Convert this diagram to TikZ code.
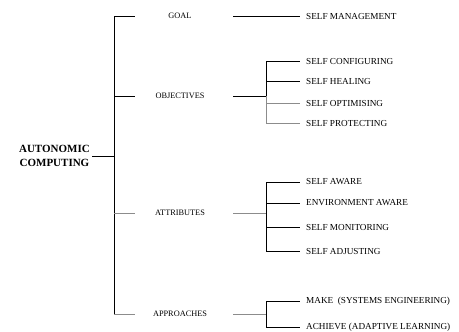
\documentclass[tikz,border=0pt]{standalone}
\usepackage{fontspec}
\setmainfont{Liberation Serif}
\tikzset{
  head/.style={font=\fontsize{11}{14}\selectfont\bfseries, align=center, inner sep=2pt},
  branch/.style={font=\fontsize{8.3}{10}\selectfont, minimum width=90pt, inner sep=0pt},
  leaf/.style={font=\fontsize{9.2}{11}\selectfont, anchor=west, inner xsep=6pt, inner ysep=1pt},
  link/.style={line width=0.7pt},
  faint/.style={line width=0.6pt, black!45},
}
\begin{document}
\begin{tikzpicture}[x=1pt,y=-1pt]
\useasboundingbox (0,0) rectangle (459,332);
% root
\node[head,anchor=east] (ac) at (92,156) {AUTONOMIC\\COMPUTING};
\coordinate (acbus) at (114,156);
% first level
\node[branch] (goal) at (180,16) {GOAL};
\node[branch] (obj) at (180,96) {OBJECTIVES};
\node[branch] (attr) at (180,213) {ATTRIBUTES};
\node[branch] (appr) at (180,314) {APPROACHES};
% leaves
\node[leaf] (mgmt) at (300,16) {SELF MANAGEMENT};
\node[leaf] (conf) at (300,61) {SELF CONFIGURING};
\node[leaf] (heal) at (300,81) {SELF HEALING};
\node[leaf] (opti) at (300,103) {SELF OPTIMISING};
\node[leaf] (prot) at (300,123) {SELF PROTECTING};
\node[leaf] (aware) at (300,182) {SELF AWARE};
\node[leaf] (env) at (300,203) {ENVIRONMENT AWARE};
\node[leaf] (moni) at (300,227) {SELF MONITORING};
\node[leaf] (adju) at (300,251) {SELF ADJUSTING};
\node[leaf] (make) at (300,301) {MAKE \ (SYSTEMS ENGINEERING)};
\node[leaf] (achv) at (300,327) {ACHIEVE (ADAPTIVE LEARNING)};
\coordinate (objbus) at (266,96);
\coordinate (attrbus) at (266,213);
\coordinate (apprbus) at (266,314);

% root to first level
\draw[link] (ac.east) -- (acbus);
\draw[link] (goal.west -| acbus) -- (appr.west -| acbus);
\draw[link] (goal.west -| acbus) -- (goal.west);
\draw[link] (obj.west -| acbus) -- (obj.west);
\draw[faint] (attr.west -| acbus) -- (attr.west);
\draw[faint] (appr.west -| acbus) -- (appr.west);

% first level to leaves
\draw[link,shorten <=8pt] (goal.east) -- (mgmt.west);
\draw[link,shorten <=8pt] (obj.east) -- (objbus);
\draw[link] (objbus) |- (conf.west);
\draw[link] (objbus) |- (heal.west);
\draw[faint] (objbus) |- (opti.west);
\draw[faint] (objbus) |- (prot.west);
\draw[faint,shorten <=8pt] (attr.east) -- (attrbus);
\draw[link] (attrbus) |- (aware.west);
\draw[link] (attrbus) |- (env.west);
\draw[link] (attrbus) |- (moni.west);
\draw[link] (attrbus) |- (adju.west);
\draw[faint,shorten <=8pt] (appr.east) -- (apprbus);
\draw[link] (apprbus) |- (make.west);
\draw[link] (apprbus) |- (achv.west);
\end{tikzpicture}
\end{document}
